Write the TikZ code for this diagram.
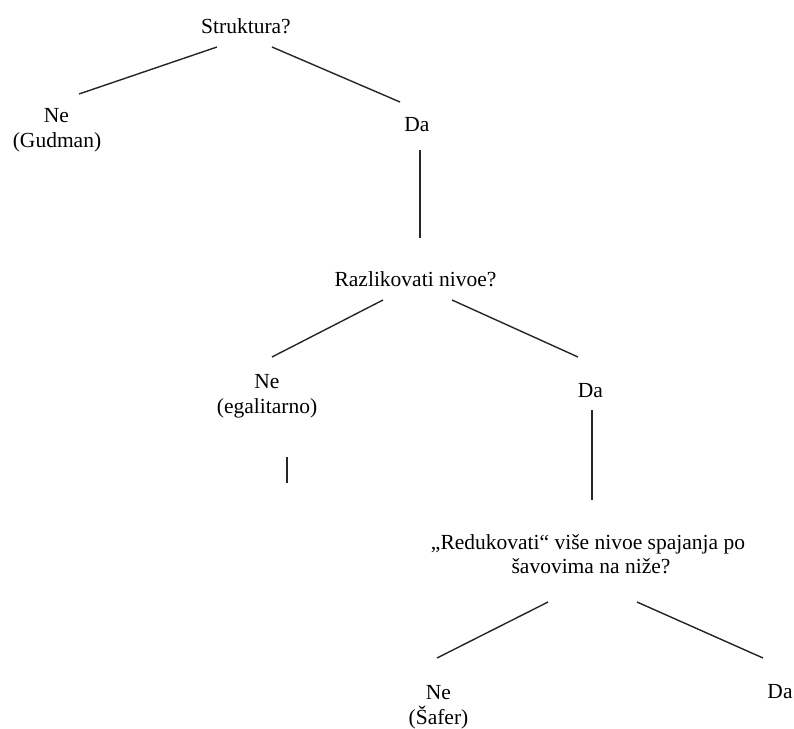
\documentclass[tikz,border=0pt]{standalone}
\usepackage{fontspec}
\setmainfont{Liberation Serif}
\usepackage{tikz}
\usetikzlibrary{calc}

\begin{document}
\begin{tikzpicture}[
        x=1pt, y=-1pt,
        answer/.style={anchor=base, inner sep=0pt, font=\fontsize{21.5}{25}\selectfont},
        branch/.style={draw=black!85, line width=1.4pt}
    ]
        \useasboundingbox (0,0) rectangle (794,728);
        % Nodes
        \node (root) [answer] at (246,33) {Struktura?};
        \node (no1) [answer] at (56.5,122) {Ne};
        \node (gud) [answer] at (57,147) {(Gudman)};
        \node (yes1) [answer] at (417,131) {Da};

        \node (q2) [answer] at (415.5,286) {Razlikovati nivoe?};
        \node (no2) [answer] at (267,388) {Ne};
        \node (ega) [answer] at (267,413) {(egalitarno)};
        \node (yes2) [answer] at (590.5,397) {Da};

        \node (q3a) [answer] at (588,549) {„Redukovati“ više nivoe spajanja po};
        \node (q3b) [answer] at (591,573) {šavovima na niže?};
        \node (no3) [answer] at (438.5,699) {Ne};
        \node (saf) [answer] at (438.5,724) {(Šafer)};
        \node (yes3) [answer] at (780,698) {Da};

        % Branches
        \draw [branch] ($(root.base)+(-29,14)$) -- ($(no1.base)+(22.5,-28)$);
        \draw [branch] ($(root.base)+(26,14)$) -- ($(yes1.base)+(-17,-29)$);
        \draw [branch] ($(yes1.base)+(3,19)$) -- ($(q2.base)+(4.5,-48)$);

        \draw [branch] ($(q2.base)+(-32.5,14)$) -- ($(no2.base)+(5,-31)$);
        \draw [branch] ($(q2.base)+(36.5,14)$) -- ($(yes2.base)+(-12.5,-40)$);
        \draw [branch] ($(ega.base)+(20,44)$) -- ++(0,26);
        \draw [branch] ($(yes2.base)+(1.5,13)$) -- ($(q3a.base)+(4,-49)$);

        \draw [branch] ($(q3b.base)+(-43,29)$) -- ($(no3.base)+(-1.5,-41)$);
        \draw [branch] ($(q3b.base)+(46,29)$) -- ($(yes3.base)+(-17,-40)$);
\end{tikzpicture}
\end{document}
